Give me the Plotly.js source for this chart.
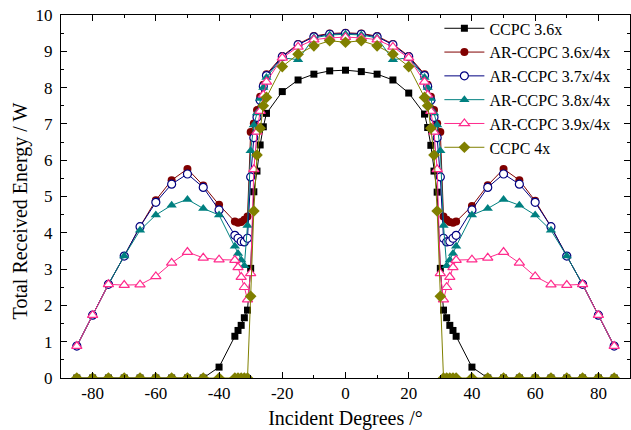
<!DOCTYPE html>
<html>
<head>
<meta charset="utf-8">
<script src="https://cdn.plot.ly/plotly-3.0.1.min.js"></script>
<style>html,body{margin:0;padding:0;background:#fff;}#chart{width:631px;height:430px;}</style>
</head>
<body>
<div id="chart"></div>
<script>
// Incident angle (degrees)
const incidentDeg = [-85,-80,-75,-70,-65,-60,-55,-50,-45,-40,
  -35,-34,-33,-32,-31,-30,-29,-28,-27,-26,-25,
  -20,-15,-10,-5,0,5,10,15,20,
  25,26,27,28,29,30,31,32,33,34,35,
  40,45,50,55,60,65,70,75,80,85];

const seriesNames = ["CCPC 3.6x","AR-CCPC 3.6x/4x","AR-CCPC 3.7x/4x","AR-CCPC 3.8x/4x","AR-CCPC 3.9x/4x","CCPC 4x"];

const ccpc36 = [0,0,0,0,0,0,0,0,0,0.30,
  1.15,1.31,1.45,1.66,1.87,3.02,5.13,5.70,6.42,6.92,7.29,
  7.89,8.21,8.37,8.46,8.48,8.44,8.37,8.21,7.85,
  7.27,6.90,6.41,5.70,5.12,3.02,1.87,1.66,1.45,1.31,1.15,
  0.30,0,0,0,0,0,0,0,0,0];

const arccpc36 = [0.88,1.73,2.58,3.36,4.17,4.90,5.45,5.76,5.30,4.77,
  4.31,4.28,4.30,4.36,4.45,6.78,7.01,7.38,7.75,8.08,8.37,
  8.87,9.20,9.42,9.49,9.51,9.49,9.42,9.20,8.87,
  8.37,8.08,7.75,7.38,7.01,6.78,4.45,4.36,4.30,4.28,4.31,
  4.74,5.31,5.76,5.45,4.88,4.17,3.36,2.58,1.73,0.88];

const arccpc37 = [0.88,1.73,2.58,3.36,4.17,4.84,5.34,5.62,5.25,4.63,
  3.93,3.85,3.76,3.75,3.85,5.54,6.62,7.18,7.65,8.03,8.33,
  8.85,9.18,9.40,9.47,9.49,9.47,9.40,9.18,8.85,
  8.33,8.03,7.65,7.18,6.62,5.54,3.85,3.75,3.76,3.85,3.93,
  4.63,5.25,5.62,5.34,4.84,4.17,3.36,2.58,1.73,0.88];

const arccpc38 = [0.88,1.73,2.58,3.36,4.07,4.49,4.76,4.92,4.67,4.49,
  3.63,3.43,3.25,3.09,4.20,6.26,6.97,7.30,7.70,8.00,8.28,
  8.82,8.77,9.37,9.45,9.47,9.45,9.37,8.77,8.82,
  8.28,8.00,7.70,7.30,6.97,6.26,4.20,3.09,3.25,3.43,3.63,
  4.49,4.67,4.92,4.76,4.49,4.07,3.36,2.58,1.73,0.88];

const arccpc39 = [0.88,1.73,2.58,2.56,2.57,2.80,3.17,3.47,3.31,3.26,
  3.25,3.05,2.78,2.50,2.16,2.88,5.75,6.78,7.35,7.80,8.16,
  8.82,9.12,9.32,9.37,9.39,9.37,9.32,9.12,8.82,
  8.16,7.80,7.35,6.78,5.75,2.88,2.16,2.50,2.78,3.05,3.25,
  3.26,3.31,3.47,3.17,2.80,2.57,2.56,2.58,1.73,0.88];

const ccpc4 = [0,0,0,0,0,0,0,0,0,0,
  0,0,0,0,0,2.25,4.60,6.14,6.88,7.50,7.73,
  8.58,8.92,9.15,9.29,9.25,9.29,9.15,8.92,8.58,
  7.73,7.50,6.88,6.14,4.60,2.25,0,0,0,0,0,
  0,0,0,0,0,0,0,0,0,0];

const xTickVals = [-80,-60,-40,-20,0,20,40,60,80];
const yTickVals = [0,1,2,3,4,5,6,7,8,9,10];

const FONT = "'Liberation Serif', 'Times New Roman', 'DejaVu Serif', serif";

function tr(name, y, color, symbol, size, fill) {
  return {
    x: incidentDeg, y: y, name: name, type: "scatter", mode: "lines+markers",
    line: {color: color, width: 1},
    marker: {symbol: symbol, size: size, color: fill || color,
             line: {color: color, width: fill ? 1.2 : 0}}
  };
}

const data = [
  tr(seriesNames[0], ccpc36, "#000000", "square", 7),
  tr(seriesNames[1], arccpc36, "#800000", "circle", 8),
  tr(seriesNames[2], arccpc37, "#000080", "circle", 8, "#ffffff"),
  tr(seriesNames[3], arccpc38, "#008080", "triangle-up", 9),
  tr(seriesNames[4], arccpc39, "#FF2A8C", "triangle-up", 9, "#ffffff"),
  tr(seriesNames[5], ccpc4, "#808000", "diamond", 9)
];

const layout = {
  width: 631, height: 430,
  margin: {l: 61, r: 1, t: 15, b: 52},
  paper_bgcolor: "#ffffff", plot_bgcolor: "#ffffff",
  font: {family: FONT, size: 17, color: "#000"},
  showlegend: true,
  legend: {x: 0.665, xanchor: "left", y: 1.01, yanchor: "top", itemwidth: 40,
           bgcolor: "rgba(0,0,0,0)", font: {family: FONT, size: 16, color: "#000"},
           tracegroupgap: 0},
  xaxis: {
    range: [-90, 90], tickvals: xTickVals, ticktext: xTickVals.map(String),
    ticks: "inside", ticklen: 6, tickwidth: 1, tickcolor: "#000",
    minor: {dtick: 10, tick0: 0, ticks: "inside", ticklen: 3, tickcolor: "#000"},
    showline: true, linecolor: "#000", linewidth: 1, mirror: "allticks",
    showgrid: false, zeroline: false,
    tickfont: {family: FONT, size: 17},
    title: {text: "Incident Degrees /°", font: {family: FONT, size: 20}, standoff: 8}
  },
  yaxis: {
    range: [0, 10], tickvals: yTickVals, ticktext: yTickVals.map(String),
    ticks: "inside", ticklen: 6, tickwidth: 1, tickcolor: "#000",
    minor: {dtick: 0.5, tick0: 0, ticks: "inside", ticklen: 3, tickcolor: "#000"},
    showline: true, linecolor: "#000", linewidth: 1, mirror: "allticks",
    showgrid: false, zeroline: false,
    tickfont: {family: FONT, size: 17}, ticklabelstandoff: 4
  },
  annotations: [{
    text: "Total Received Energy / W", xref: "paper", yref: "paper",
    x: -0.072, y: 0.459, xanchor: "center", yanchor: "middle",
    textangle: -90, showarrow: false, font: {family: FONT, size: 20, color: "#000"}
  }]
};

Plotly.newPlot("chart", data, layout, {displayModeBar: false, staticPlot: true});
</script>
</body>
</html>
